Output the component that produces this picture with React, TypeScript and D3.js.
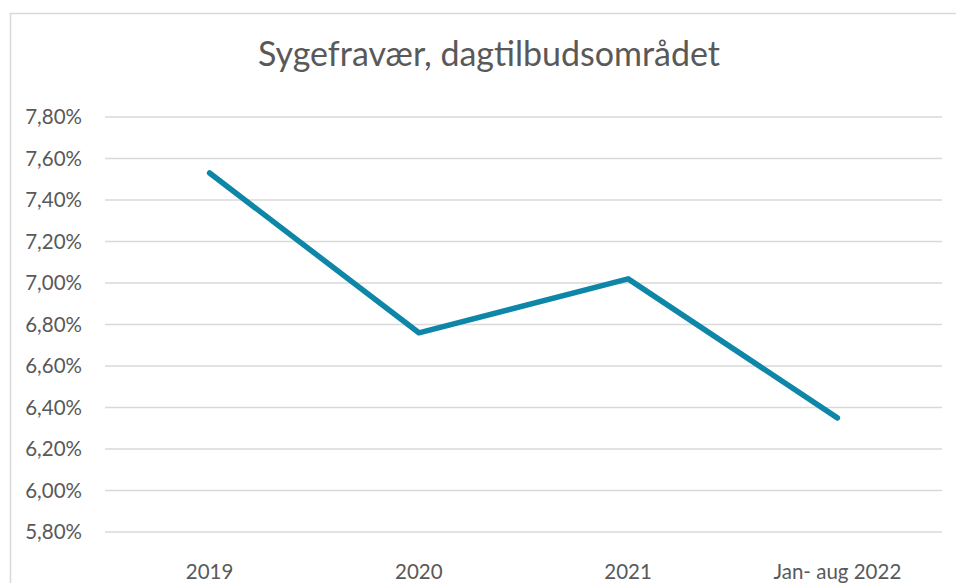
import React, { useEffect, useRef } from 'react';
import * as d3 from 'd3';

const categories = ['2019', '2020', '2021', 'Jan- aug 2022'];
const sickLeave = [7.53, 6.76, 7.02, 6.35];
const yTicks = [5.8, 6.0, 6.2, 6.4, 6.6, 6.8, 7.0, 7.2, 7.4, 7.6, 7.8];
const title = 'Sygefravær, dagtilbudsområdet';

const W = 956, H = 583;

const App = () => {
    const ref = useRef<SVGSVGElement>(null);

    useEffect(() => {
        if (!ref.current) return;
        const svg = d3.select(ref.current);
        svg.selectAll('*').remove();

        const font = 'Lato, "Open Sans", sans-serif';
        const textCol = '#595959';

        // outer chart frame (cut off at right and bottom)
        svg.append('rect')
            .attr('x', 10.5).attr('y', 13.5)
            .attr('width', W + 20).attr('height', H + 20)
            .attr('fill', '#fff').attr('stroke', '#d9d9d9').attr('stroke-width', 1.5);

        svg.append('text')
            .attr('x', 489).attr('y', 66)
            .attr('text-anchor', 'middle')
            .attr('font-family', font).attr('font-size', 34)
            .attr('fill', textCol)
            .text(title);

        const x = d3.scaleBand().domain(categories).range([105, 942]);
        const y = d3.scaleLinear().domain([5.8, 7.8]).range([532, 117]);

        // gridlines
        svg.append('g').selectAll('line')
            .data(yTicks).enter().append('line')
            .attr('x1', 105).attr('x2', 942)
            .attr('y1', d => y(d)).attr('y2', d => y(d))
            .attr('stroke', '#d9d9d9').attr('stroke-width', 1.5);

        // y tick labels
        svg.append('g').selectAll('text')
            .data(yTicks).enter().append('text')
            .attr('x', 82).attr('y', d => y(d) + 7)
            .attr('text-anchor', 'end')
            .attr('font-family', font).attr('font-size', 20.5)
            .attr('fill', textCol)
            .text(d => d.toFixed(2).replace('.', ',') + '%');

        // x labels
        svg.append('g').selectAll('text')
            .data(categories).enter().append('text')
            .attr('x', d => (x(d) as number) + x.bandwidth() / 2)
            .attr('y', 579)
            .attr('text-anchor', 'middle')
            .attr('font-family', font).attr('font-size', 20.5)
            .attr('fill', textCol)
            .text(d => d);

        const line = d3.line<number>()
            .x((d, i) => (x(categories[i]) as number) + x.bandwidth() / 2)
            .y(d => y(d));

        svg.append('path')
            .datum(sickLeave)
            .attr('d', line)
            .attr('fill', 'none')
            .attr('stroke', '#0e86a8')
            .attr('stroke-width', 5.5)
            .attr('stroke-linecap', 'round')
            .attr('stroke-linejoin', 'round');
    }, []);

    return (
        <svg ref={ref} width={W} height={H}
            style={{ position: 'absolute', left: 0, top: 0, background: '#fff' }} />
    );
};

export default App;
